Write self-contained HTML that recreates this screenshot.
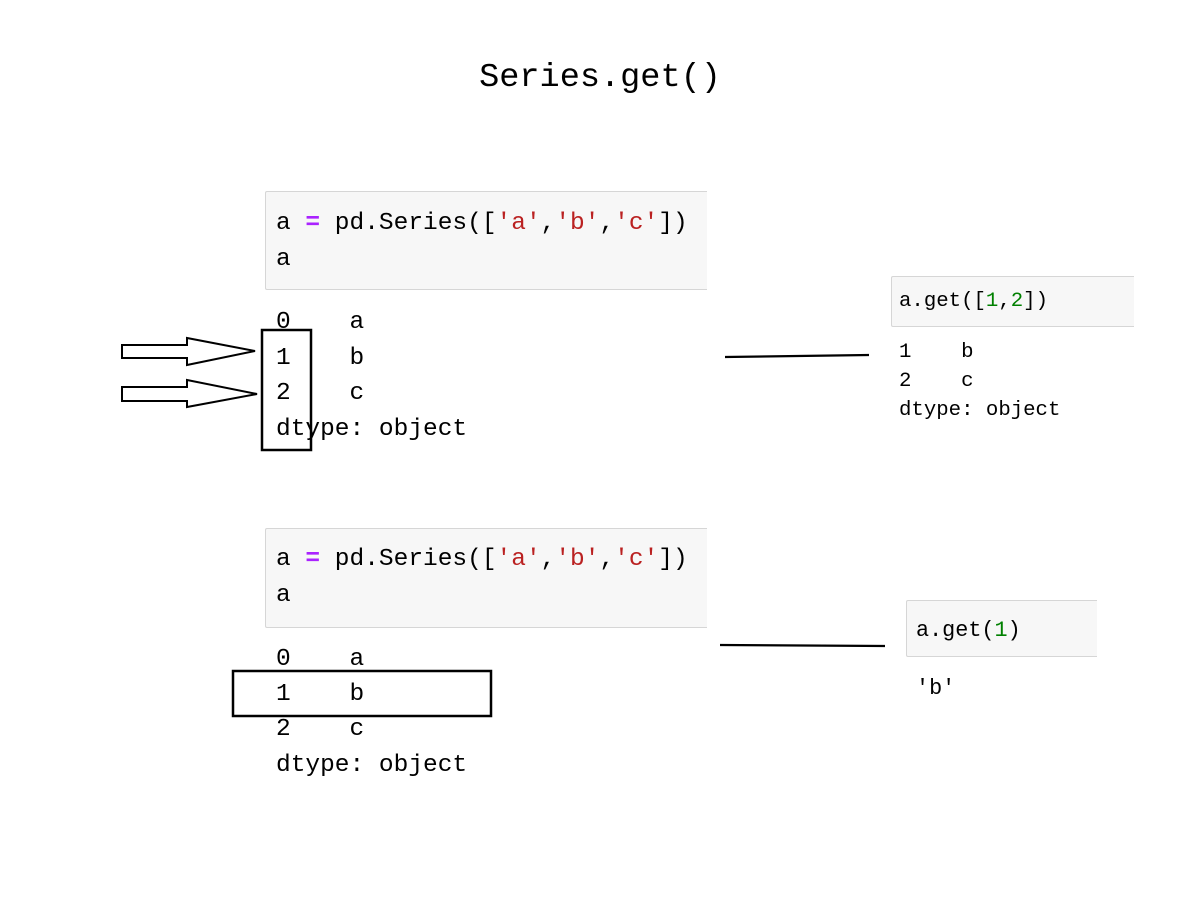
<!DOCTYPE html>
<html><head><meta charset="utf-8"><style>
html,body{margin:0;padding:0;background:#fff;}
body{width:1200px;height:900px;position:relative;overflow:hidden;font-family:"Liberation Mono","DejaVu Sans Mono",monospace;color:#000;}
.t{position:absolute;white-space:pre;}
.box{position:absolute;background:#f7f7f7;border:1px solid #d6d6d6;border-right:none;border-radius:2px 0 0 2px;}
.p{color:#aa22ff;font-weight:bold}.s{color:#ba2121}.g{color:#008000}
.L{font-size:24.5px;line-height:36px;}
.M{font-size:20.7px;line-height:29px;}
</style></head><body>
<div class="t" style="left:0;width:1200px;text-align:center;top:58px;font-size:33.6px;line-height:40px;">Series.get()</div>

<div class="box" style="left:265px;top:191px;width:441px;height:97px;"></div>
<div class="t L" style="left:276px;top:206px;">a <span class="p">=</span> pd.Series([<span class="s">'a'</span>,<span class="s">'b'</span>,<span class="s">'c'</span>])
a</div>
<div class="t L" style="left:276px;top:305px;line-height:35.5px;">0    a
1    b
2    c
dtype: object</div>

<div class="box" style="left:265px;top:528px;width:441px;height:98px;"></div>
<div class="t L" style="left:276px;top:542px;">a <span class="p">=</span> pd.Series([<span class="s">'a'</span>,<span class="s">'b'</span>,<span class="s">'c'</span>])
a</div>
<div class="t L" style="left:276px;top:642px;line-height:35.2px;">0    a
1    b
2    c
dtype: object</div>

<div class="box" style="left:891px;top:276px;width:242px;height:49px;"></div>
<div class="t M" style="left:899px;top:287px;">a.get([<span class="g">1</span>,<span class="g">2</span>])</div>
<div class="t M" style="left:899px;top:338px;">1    b
2    c
dtype: object</div>

<div class="box" style="left:906px;top:600px;width:190px;height:55px;"></div>
<div class="t" style="left:916px;top:616px;font-size:21.8px;line-height:30px;">a.get(<span class="g">1</span>)</div>
<div class="t" style="left:916px;top:674px;font-size:21.8px;line-height:30px;">'b'</div>

<svg style="position:absolute;left:0;top:0" width="1200" height="900">
<rect x="262" y="330" width="49" height="120" fill="none" stroke="#000" stroke-width="2.5"/>
<rect x="233" y="671" width="258" height="45" fill="none" stroke="#000" stroke-width="2.5"/>
<line x1="725" y1="357" x2="869" y2="355" stroke="#000" stroke-width="2.2"/>
<line x1="720" y1="645" x2="885" y2="646" stroke="#000" stroke-width="2.2"/>
<polygon points="122,345 187,345 187,338 255,351 187,365 187,358 122,358" fill="#fff" stroke="#000" stroke-width="2"/>
<polygon points="122,387 187,387 187,380 257,394 187,407 187,401 122,401" fill="#fff" stroke="#000" stroke-width="2"/>
</svg>
</body></html>
